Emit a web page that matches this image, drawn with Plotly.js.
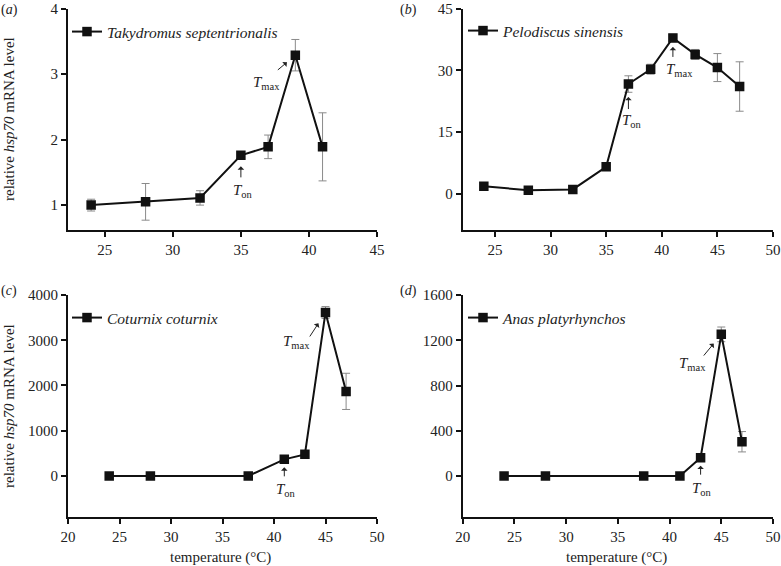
<!DOCTYPE html>
<html><head><meta charset="utf-8">
<script src="https://cdn.plot.ly/plotly-3.0.1.min.js"></script>
<style>html,body{margin:0;padding:0;background:#fff}</style>
</head><body><div id="chart" style="width:781px;height:566px"></div>
<script>
// (a) Takydromus septentrionalis
const tempA=[24,28,32,35,37,39,41];
const levelA=[1.0,1.05,1.11,1.76,1.89,3.29,1.89];
const errA=[0.09,0.28,0.11,0.05,0.18,0.24,0.52];
// (b) Pelodiscus sinensis
const tempB=[24,28,32,35,37,39,41,43,45,47];
const levelB=[1.9,0.9,1.1,6.6,26.7,30.3,37.9,33.9,30.7,26.1];
const errB=[0.3,0.2,0.3,0.4,2.0,1.2,0.9,1.2,3.4,6.0];
// (c) Coturnix coturnix
const tempC=[24,28,37.5,41,43,45,47];
const levelC=[0,0,0,368,478,3614,1870];
const errC=[5,5,10,30,30,130,400];
// (d) Anas platyrhynchos
const tempD=[24,28,37.5,41,43,45,47];
const levelD=[0,0,0,0,162,1252,303];
const errD=[2,2,2,2,15,65,90];

const species=['Takydromus septentrionalis','Pelodiscus sinensis','Coturnix coturnix','Anas platyrhynchos'];
const panelLabels=['a','b','c','d'];
const yTitle='relative <i>hsp70</i> mRNA level';
const xTitle='temperature (°C)';

const FONT='Liberation Serif, Times New Roman, serif';
const W=781,H=566;

function trace(x,y,e,name,xa,ya,lg){
  return {x:x,y:y,name:name,type:'scatter',mode:'lines+markers',xaxis:xa,yaxis:ya,legend:lg,
    line:{color:'#111',width:2},marker:{symbol:'square',size:9.5,color:'#111'},
    error_y:{type:'data',array:e,visible:true,color:'#8a8a8a',thickness:1,width:4}};
}
const data=[
  trace(tempA,levelA,errA,species[0],'x','y','legend'),
  trace(tempB,levelB,errB,species[1],'x2','y2','legend2'),
  trace(tempC,levelC,errC,species[2],'x3','y3','legend3'),
  trace(tempD,levelD,errD,species[3],'x4','y4','legend4')
];

function axis(domain,range,dtick,anchor){
  return {domain:domain,range:range,dtick:dtick,tick0:0,anchor:anchor,showline:true,linewidth:2,linecolor:'#111',
    ticks:'outside',ticklen:5,tickwidth:2,tickcolor:'#111',showgrid:false,zeroline:false,
    tickfont:{family:FONT,size:15,color:'#222'},fixedrange:true,automargin:false};
}
const px=v=>v/W, py=v=>1-v/H;
const xdL=[px(68),px(377)], xdR=[px(462.7),px(773)];
const ydT=[py(230),py(8.7)], ydB=[py(517.3),py(295)];

function legend(xl,yc){
  return {x:px(xl),y:py(yc),xanchor:'left',yanchor:'middle',bgcolor:'rgba(0,0,0,0)',borderwidth:0,
    font:{family:FONT,size:15.5,color:'#222',style:'italic'}};
}

const ann=[];
function label(x,y,xr,yr,xs,ys,sub){
  ann.push({x:x,y:y,xref:xr,yref:yr,xshift:xs,yshift:ys,showarrow:false,
    text:'<i>T</i><sub>'+sub+'</sub>',font:{family:FONT,size:15,color:'#222'}});
}
function arrow(x,y,xr,yr,ax,ay,so){
  ann.push({x:x,y:y,xref:xr,yref:yr,ax:ax,ay:ay,showarrow:true,text:' ',font:{size:1},
    arrowhead:1,arrowsize:1.1,arrowwidth:1,arrowcolor:'#222',standoff:so});
}
// panel a
label(tempA[3],levelA[3],'x','y',2,-36,'on'); arrow(tempA[3],levelA[3],'x','y',0,24,11);
label(tempA[5],levelA[5],'x','y',-29,-28,'max'); arrow(tempA[5],levelA[5],'x','y',-19,16,11);
// panel b
label(tempB[4],levelB[4],'x2','y2',4,-37,'on'); arrow(tempB[4],levelB[4],'x2','y2',0,27,13);
label(tempB[6],levelB[6],'x2','y2',7,-32,'max'); arrow(tempB[6],levelB[6],'x2','y2',0,21,9);
// panel c
label(tempC[3],levelC[3],'x3','y3',2,-31,'on'); arrow(tempC[3],levelC[3],'x3','y3',0,19,8);
label(tempC[5],levelC[5],'x3','y3',-29,-30,'max'); arrow(tempC[5],levelC[5],'x3','y3',-17,26,13);
// panel d
label(tempD[4],levelD[4],'x4','y4',1,-31,'on'); arrow(tempD[4],levelD[4],'x4','y4',0,19,8);
label(tempD[5],levelD[5],'x4','y4',-29,-30,'max'); arrow(tempD[5],levelD[5],'x4','y4',-19,23,12);

// panel letters
[[9,10],[408,10],[9,291],[408,291]].forEach((p,i)=>{
  ann.push({x:px(p[0]),y:py(p[1]),xref:'paper',yref:'paper',showarrow:false,xanchor:'center',yanchor:'middle',
    text:'(<i>'+panelLabels[i]+'</i>)',font:{family:FONT,size:14,color:'#222'}});
});
// y titles
[[9,119],[9,406]].forEach(p=>{
  ann.push({x:px(p[0]),y:py(p[1]),xref:'paper',yref:'paper',showarrow:false,textangle:-90,xanchor:'center',yanchor:'middle',
    text:yTitle,font:{family:FONT,size:15,color:'#222'}});
});
// x titles
[[220,557],[616,557]].forEach(p=>{
  ann.push({x:px(p[0]),y:py(p[1]),xref:'paper',yref:'paper',showarrow:false,xanchor:'center',yanchor:'middle',
    text:xTitle,font:{family:FONT,size:15,color:'#222'}});
});

const layout={
  width:W,height:H,margin:{l:0,r:0,t:0,b:0},paper_bgcolor:'#fff',plot_bgcolor:'#fff',
  font:{family:FONT,color:'#222'},showlegend:true,
  xaxis:axis(xdL,[22.3,45],5,'y'), yaxis:axis(ydT,[0.62,4],1,'x'),
  xaxis2:axis(xdR,[22.1,50],5,'y2'), yaxis2:axis(ydT,[-8.75,45],15,'x2'),
  xaxis3:axis(xdL,[20,50],5,'y3'), yaxis3:axis(ydB,[-913,4000],1000,'x3'),
  xaxis4:axis(xdR,[20,50],5,'y4'), yaxis4:axis(ydB,[-365,1600],400,'x4'),
  legend:legend(67,32), legend2:legend(463,31), legend3:legend(67,318), legend4:legend(463,318),
  annotations:ann
};
Plotly.newPlot('chart',data,layout,{displayModeBar:false,staticPlot:true});
</script></body></html>
